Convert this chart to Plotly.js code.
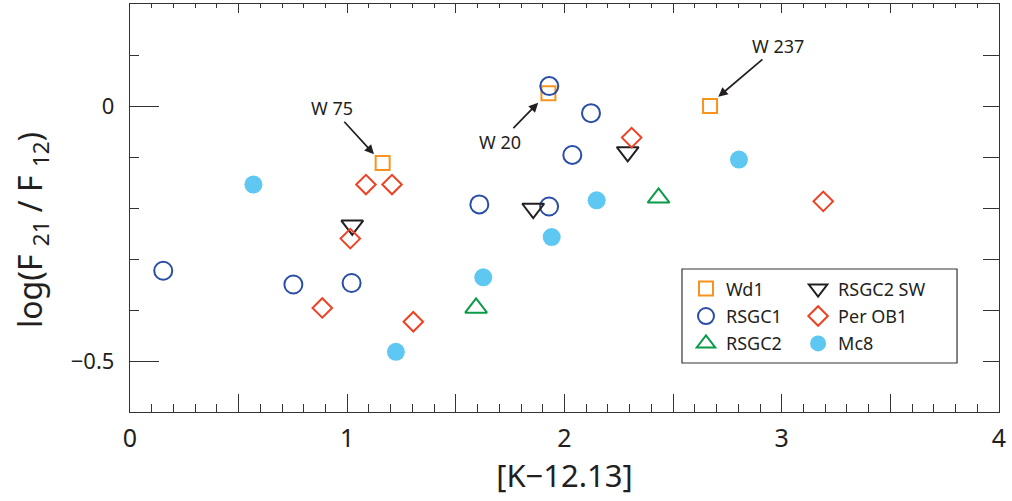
<!DOCTYPE html>
<html><head><meta charset="utf-8">
<script src="https://cdn.plot.ly/plotly-3.0.1.min.js"></script>
<style>html,body{margin:0;padding:0;background:#fff}</style>
</head><body><div id="chart" style="width:1012px;height:501px"></div>
<script>
// Data
const wd1X = [1.163, 1.926, 2.670];
const wd1Y = [-0.112, 0.025, 0.000];
const rsgc1X = [0.153, 0.752, 1.020, 1.608, 1.930, 2.122, 2.036, 1.929];
const rsgc1Y = [-0.323, -0.350, -0.347, -0.193, 0.039, -0.014, -0.096, -0.197];
const rsgc2X = [1.593, 2.433];
const rsgc2Y = [-0.396, -0.180];
const rsgc2swX = [1.023, 1.856, 2.291];
const rsgc2swY = [-0.234, -0.201, -0.090];
const perob1X = [1.086, 1.206, 1.014, 0.885, 1.304, 2.309, 3.191];
const perob1Y = [-0.154, -0.154, -0.260, -0.396, -0.423, -0.062, -0.187];
const mc8X = [0.568, 1.224, 1.626, 1.941, 2.148, 2.803];
const mc8Y = [-0.154, -0.482, -0.336, -0.257, -0.185, -0.105];

const labelNames = ['W 75', 'W 20', 'W 237'];
const labelX = [1.123, 1.879, 2.708];
const labelY = [-0.0945, 0.0065, 0.018];

const xTickVals = [0, 1, 2, 3, 4];
const xTickText = ['0', '1', '2', '3', '4'];
const xHalfTicks = [0.5, 1.5, 2.5, 3.5];
const xTopTicks = [0, 0.5, 1, 1.5, 2, 2.5, 3, 3.5, 4];
const yTickVals = [0, -0.5];
const yTickText = ['0', '\u22120.5'];
const yRightTicks = [-0.5, -0.4, -0.3, -0.2, -0.1, 0, 0.1];

const FONT = 'Noto Sans, Open Sans, sans-serif';
const INK = '#231f20';

function tr(name, x, y, symbol, color, size, legend, filled) {
  return {
    type: 'scatter', mode: 'markers', name: name, x: x, y: y, legend: legend, legendgroup: name,
    marker: {symbol: symbol, size: size, color: color,
             line: {color: color, width: filled ? 0 : 2}}
  };
}

const traces = [
  tr('Wd1', wd1X, wd1Y, 'square-open', '#f7941d', 14, 'legend', false),
  tr('RSGC1', rsgc1X, rsgc1Y, 'circle-open', '#2a4ea6', 18, 'legend', false),
  tr('RSGC2', rsgc2X, rsgc2Y, 'triangle-up-open', '#0b9b48', 19, 'legend', false),
  tr('RSGC2 SW', rsgc2swX, rsgc2swY, 'triangle-down-open', INK, 19, 'legend2', false),
  tr('Per OB1', perob1X, perob1Y, 'diamond-open', '#ef4123', 15, 'legend2', false),
  tr('Mc8', mc8X, mc8Y, 'circle', '#5ec8f2', 18, 'legend2', true),
  {type: 'scatter', mode: 'markers', x: [null], y: [null], xaxis: 'x2', yaxis: 'y2',
   showlegend: false, hoverinfo: 'skip'},
  {type: 'scatter', mode: 'markers', x: [null], y: [null], xaxis: 'x3', yaxis: 'y2',
   showlegend: false, hoverinfo: 'skip'}
];

const annOffsets = [[-42, -46], [-38, 39], [60, -51]];
const annotations = labelNames.map((t, i) => ({
  x: labelX[i], y: labelY[i], xref: 'x', yref: 'y', text: t,
  showarrow: true, ax: annOffsets[i][0], ay: annOffsets[i][1],
  arrowhead: 2, arrowsize: 1.1, arrowwidth: 1.7, arrowcolor: INK,
  font: {family: FONT, size: 18, color: INK}
}));
annotations.push({
  xref: 'paper', yref: 'paper', x: (32 - 130) / 869, y: (412 - 230) / 408,
  xanchor: 'center', yanchor: 'middle', textangle: -90, showarrow: false,
  text: 'log(F <sub>21</sub> / F <sub>12</sub>)', font: {family: FONT, size: 32, color: INK}
});

const layout = {
  width: 1012, height: 501,
  margin: {l: 130, r: 13, t: 4, b: 89},
  paper_bgcolor: '#fff', plot_bgcolor: '#fff',
  font: {family: FONT, color: INK},
  xaxis: {
    range: [0, 4], showgrid: false, zeroline: false,
    showline: true, linecolor: '#333', linewidth: 1.2,
    tickmode: 'array', tickvals: xTickVals, ticktext: xTickText,
    ticks: 'inside', ticklen: 18, tickcolor: '#333', tickwidth: 1,
    minor: {tickmode: 'linear', tick0: 0, dtick: 0.1, ticks: 'inside', ticklen: 8, tickcolor: '#333', tickwidth: 1},
    tickfont: {family: FONT, size: 25, color: INK}, ticklabelstandoff: 4,
    title: {text: '[K\u221212.13]', font: {family: FONT, size: 31, color: INK}, standoff: 8}
  },
  xaxis3: {
    overlaying: 'x', side: 'bottom', range: [0, 4], anchor: 'y',
    showgrid: false, zeroline: false, showline: false,
    tickmode: 'array', tickvals: xHalfTicks, showticklabels: false,
    ticks: 'inside', ticklen: 18, tickcolor: '#333', tickwidth: 1
  },
  yaxis: {
    range: [-0.6, 0.2], showgrid: false, zeroline: false,
    showline: true, linecolor: '#333', linewidth: 1.2,
    tickmode: 'array', tickvals: yTickVals, ticktext: yTickText,
    ticks: 'inside', ticklen: 29, tickcolor: '#333', tickwidth: 1,
    minor: {tickmode: 'linear', tick0: 0, dtick: 0.1, ticks: 'inside', ticklen: 9, tickcolor: '#333', tickwidth: 1},
    tickfont: {family: FONT, size: 22, color: INK}, ticklabelstandoff: 10
  },
  xaxis2: {
    overlaying: 'x', side: 'top', range: [0, 4], anchor: 'y',
    showgrid: false, zeroline: false, showline: true, linecolor: '#333', linewidth: 1.2,
    tickmode: 'array', tickvals: xTopTicks, showticklabels: false,
    ticks: 'inside', ticklen: 9, tickcolor: '#333',
    minor: {tickmode: 'linear', tick0: 0, dtick: 0.1, ticks: 'inside', ticklen: 4, tickcolor: '#333'}
  },
  yaxis2: {
    overlaying: 'y', side: 'right', range: [-0.6, 0.2], anchor: 'x',
    showgrid: false, zeroline: false, showline: true, linecolor: '#333', linewidth: 1.2,
    tickmode: 'array', tickvals: yRightTicks, showticklabels: false,
    ticks: 'inside', ticklen: 16, tickcolor: '#333'
  },
  showlegend: true,
  legend: {x: 0.6398, y: 0.347, xanchor: 'left', yanchor: 'top', bgcolor: 'rgba(0,0,0,0)',
           font: {family: FONT, size: 18, color: INK}, tracegroupgap: 1, itemclick: false},
  legend2: {x: 0.7688, y: 0.347, xanchor: 'left', yanchor: 'top', bgcolor: 'rgba(0,0,0,0)',
            font: {family: FONT, size: 18, color: INK}, tracegroupgap: 1, itemclick: false},
  shapes: [{type: 'rect', xref: 'paper', yref: 'paper', x0: 0.6352, x1: 0.9517, y0: 0.1201, y1: 0.3505,
            line: {color: '#333', width: 1.2}, fillcolor: 'rgba(0,0,0,0)'}],
  annotations: annotations
};

Plotly.newPlot('chart', traces, layout, {staticPlot: true, displayModeBar: false});
</script></body></html>
